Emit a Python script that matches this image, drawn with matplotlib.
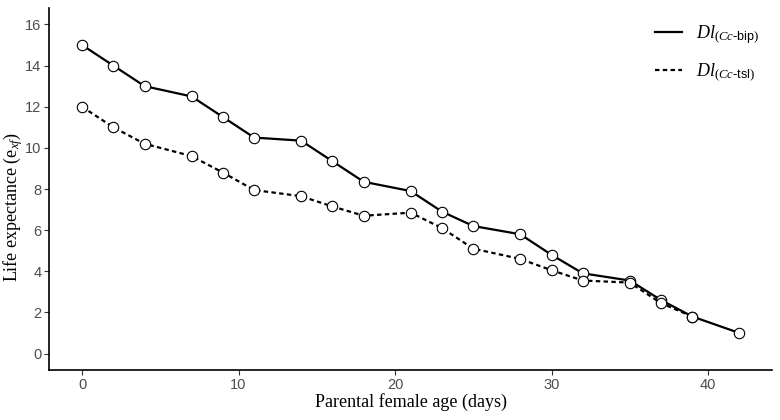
import matplotlib.pyplot as plt

plt.rcParams['mathtext.fontset'] = 'custom'
plt.rcParams['mathtext.rm'] = 'Liberation Serif'
plt.rcParams['mathtext.it'] = 'Liberation Serif:italic'
plt.rcParams['mathtext.sf'] = 'Liberation Sans'

days_bip = [0, 2, 4, 7, 9, 11, 14, 16, 18, 21, 23, 25, 28, 30, 32, 35, 37, 39, 42]
ex_bip = [15, 14, 13, 12.5, 11.5, 10.5, 10.35, 9.35, 8.35, 7.9, 6.9, 6.2, 5.8,
          4.8, 3.9, 3.55, 2.6, 1.8, 1.0]

days_tsl = [0, 2, 4, 7, 9, 11, 14, 16, 18, 21, 23, 25, 28, 30, 32, 35, 37, 39]
ex_tsl = [12, 11, 10.2, 9.6, 8.8, 7.95, 7.65, 7.15, 6.7, 6.85, 6.1, 5.1, 4.6,
          4.05, 3.55, 3.45, 2.45, 1.8]

x_ticks = [0, 10, 20, 30, 40]
y_ticks = [0, 2, 4, 6, 8, 10, 12, 14, 16]

fig = plt.figure(figsize=(7.8, 4.2), dpi=100)
ax = fig.add_axes([0.063, 0.119, 0.927, 0.862])

marker_style = dict(marker='o', markersize=7.5, markerfacecolor='white',
                    markeredgecolor='black', markeredgewidth=0.8)

# 两条曲线
ax.plot(days_bip, ex_bip, color='black', linewidth=1.6, linestyle='-',
        label=r'$\mathit{Dl}_{(\mathit{Cc}\mathsf{\text{-}bip})}$', **marker_style)
ax.plot(days_tsl, ex_tsl, color='black', linewidth=1.6, linestyle=(0, (2, 1.5)),
        label=r'$\mathit{Dl}_{(\mathit{Cc}\mathsf{\text{-}tsl})}$', **marker_style)

ax.set_xlim(-2.1, 44.1)
ax.set_ylim(-0.8, 16.8)
ax.set_xticks(x_ticks)
ax.set_yticks(y_ticks)

for side in ['top', 'right']:
    ax.spines[side].set_visible(False)
for side in ['left', 'bottom']:
    ax.spines[side].set_linewidth(1.2)

ax.tick_params(axis='both', direction='out', length=3.5, width=0.8,
               color='#333333', labelcolor='#4d4d4d', labelsize=10.5, pad=2)
for lab in ax.get_xticklabels() + ax.get_yticklabels():
    lab.set_fontfamily('Liberation Sans')

ax.set_xlabel('Parental female age (days)', fontsize=13,
              fontfamily='Liberation Serif', labelpad=1)
ax.set_ylabel(r'Life expectance (e$_{\mathit{xf}}$)', fontsize=13,
              fontfamily='Liberation Serif')
ax.yaxis.set_label_coords(-0.034, 0.45)

# 图例
leg = ax.legend(loc='upper right', frameon=False, fontsize=13,
                handlelength=1.5, labelspacing=0.85, borderaxespad=0.3,
                bbox_to_anchor=(1.0, 0.99))
for line in leg.get_lines():
    line.set_marker('')

plt.savefig('out.png', dpi=100)
